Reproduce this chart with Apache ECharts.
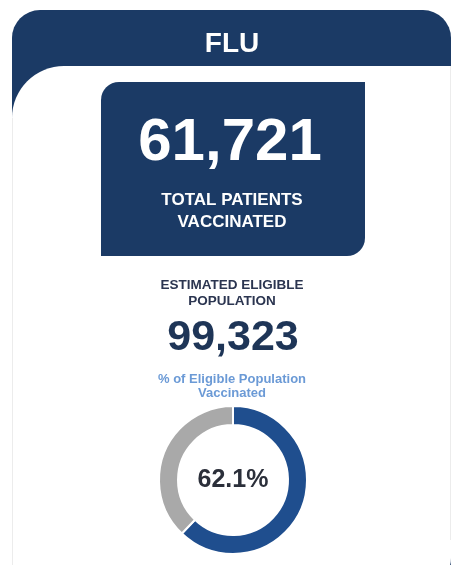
<!DOCTYPE html>
<html>
<head>
<meta charset="utf-8">
<script src="https://cdn.jsdelivr.net/npm/echarts@6/dist/echarts.min.js"></script>
<style>
  html, body { margin: 0; padding: 0; background: #ffffff; }
  #chart { width: 453px; height: 565px; }
</style>
</head>
<body>
<div id="chart"></div>
<script>
// Flu vaccination summary card
const cardTitle = 'FLU';
const totalVaccinated = 61721;
const eligiblePopulation = 99323;
const totalLabelLines = ['TOTAL PATIENTS', 'VACCINATED'];
const eligibleLabelLines = ['ESTIMATED ELIGIBLE', 'POPULATION'];
const pctLabelLines = ['% of Eligible Population', 'Vaccinated'];
const donutNames = ['Vaccinated', 'Not vaccinated'];
const donutValues = [totalVaccinated, eligiblePopulation - totalVaccinated];

const NAVY = '#1b3a65';
const FONT = '"Liberation Sans", Arial, Helvetica, sans-serif';
const fmt = n => n.toLocaleString('en-US');
const pct = (totalVaccinated / eligiblePopulation * 100).toFixed(1) + '%';

const chart = echarts.init(document.getElementById('chart'), null, { renderer: 'canvas' });

const cx = 232;

function text(str, x, y, size, color, weight) {
  return {
    type: 'text', x: x, y: y, z: 10,
    style: {
      text: str, fill: color, font: (weight || 'bold') + ' ' + size + 'px ' + FONT,
      textAlign: 'center', textVerticalAlign: 'middle'
    }
  };
}

chart.setOption({
  animation: false,
  graphic: [
    // card frame
    { type: 'rect', z: 1, shape: { x: 12, y: 10, width: 439, height: 600, r: [28, 28, 28, 28] },
      style: { fill: NAVY } },
    // white body with large rounded top-left corner
    { type: 'rect', z: 2, shape: { x: 12, y: 66, width: 439, height: 520, r: [52, 0, 28, 0] },
      style: { fill: '#ffffff' } },
    { type: 'line', z: 3, shape: { x1: 12.5, y1: 118, x2: 12.5, y2: 565 }, style: { stroke: '#ececec', lineWidth: 1 } },
    { type: 'line', z: 3, shape: { x1: 450.5, y1: 66, x2: 450.5, y2: 540 }, style: { stroke: '#ececec', lineWidth: 1 } },
    // headline box
    { type: 'rect', z: 4, shape: { x: 101, y: 82, width: 264, height: 174, r: [18, 0, 18, 0] },
      style: { fill: NAVY } },
    text(cardTitle, cx, 44, 28, '#ffffff'),
    text(fmt(totalVaccinated), cx - 2, 143, 60, '#ffffff'),
    text(totalLabelLines[0], cx, 200, 17, '#ffffff'),
    text(totalLabelLines[1], cx, 222, 17, '#ffffff'),
    text(eligibleLabelLines[0], cx, 285, 13.5, '#2b3550'),
    text(eligibleLabelLines[1], cx, 301, 13.5, '#2b3550'),
    text(fmt(eligiblePopulation), cx + 1, 338, 43, '#1e3557'),
    text(pctLabelLines[0], cx, 379, 13, '#6b9ad6'),
    text(pctLabelLines[1], cx, 393, 13, '#6b9ad6')
  ],
  series: [{
    type: 'pie',
    center: [233, 480],
    radius: [55, 74],
    startAngle: 90,
    clockwise: true,
    silent: true,
    z: 5,
    itemStyle: { borderColor: '#ffffff', borderWidth: 2 },
    label: {
      show: true, position: 'center',
      formatter: () => pct,
      fontFamily: FONT, fontWeight: 'bold', fontSize: 25, color: '#2b2f3a',
      padding: [12, 0, 0, 0]
    },
    labelLine: { show: false },
    emphasis: { disabled: true },
    data: donutNames.map((n, i) => ({
      name: n, value: donutValues[i],
      itemStyle: { color: i === 0 ? '#1f4e8e' : '#a9a9a9' },
      label: { show: i === 0 }
    }))
  }]
});
</script>
</body>
</html>
